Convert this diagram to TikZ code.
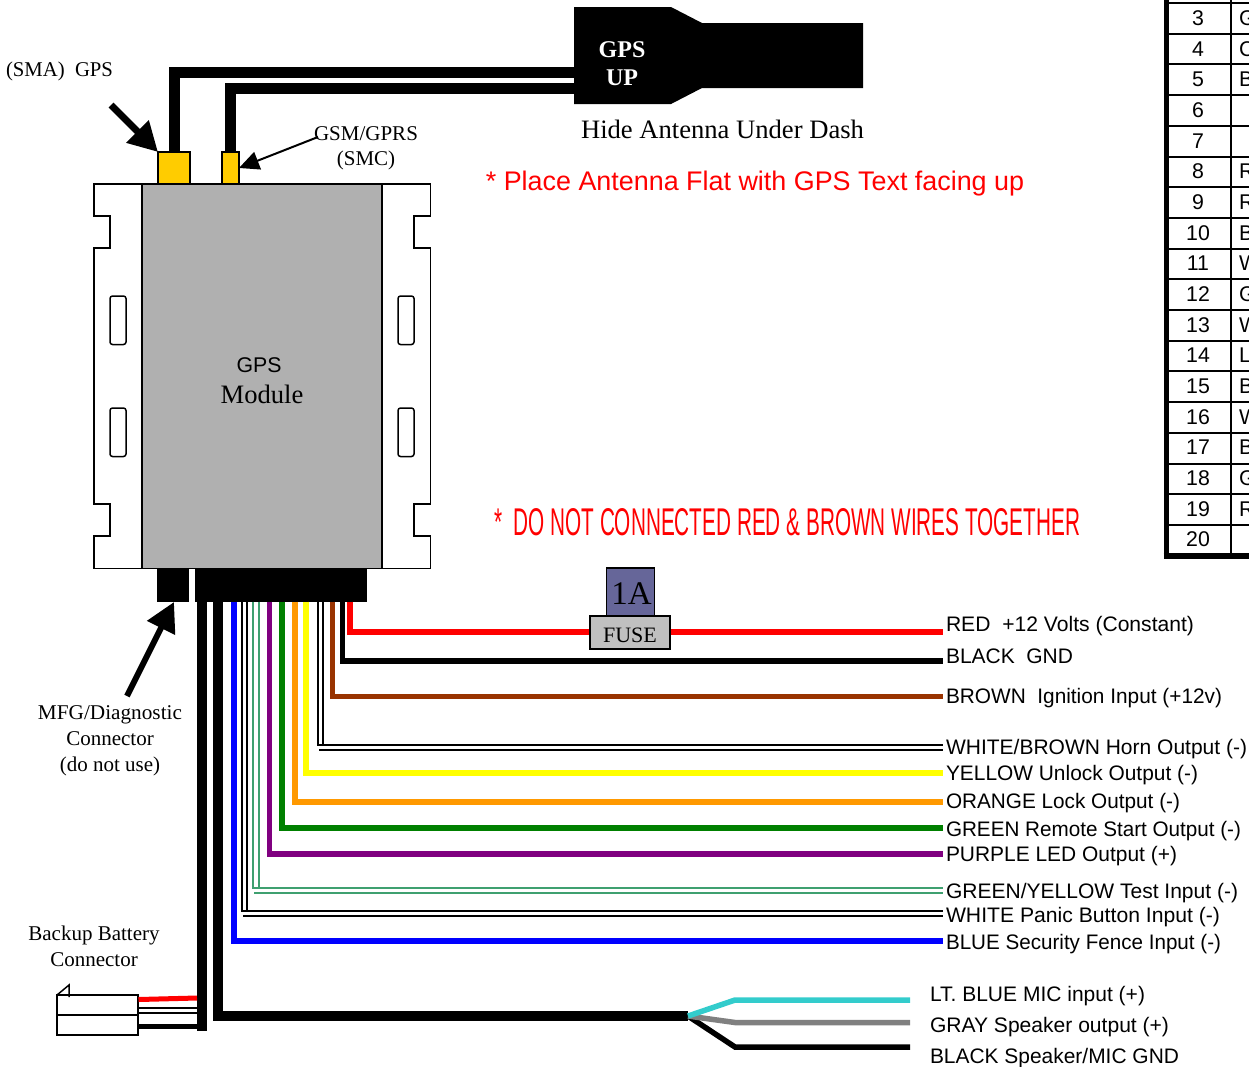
\documentclass[tikz,border=0pt]{standalone}
\usepackage{fontspec}
\usepackage{graphicx}
\setmainfont{Liberation Serif}
\newfontfamily\arialf{Liberation Sans}
\usetikzlibrary{arrows.meta,calc}
\definecolor{gold}{HTML}{FFCC00}
\definecolor{modgray}{HTML}{B0B0B0}
\definecolor{fuseblue}{HTML}{666699}
\definecolor{fusegray}{HTML}{C0C0C0}
\definecolor{wbrown}{HTML}{993300}
\definecolor{wpurple}{HTML}{800080}
\definecolor{wgreen}{HTML}{008000}
\definecolor{worange}{HTML}{FF9900}
\definecolor{wyellow}{HTML}{FFFF00}
\definecolor{wmint}{HTML}{3FA070}
\definecolor{wteal}{HTML}{33CCCC}
\definecolor{wgray}{HTML}{808080}
\newcommand{\fsz}[1]{\fontsize{#1}{#1}\selectfont}
\tikzset{
  every node/.style={outer sep=0pt},
  outline/.style={draw=black,line width=1.5pt},
  wirethick/.style={line width=10.5pt,line join=miter},
  wire/.style={line width=#1,line join=miter},
  rail/.style={line width=2pt,draw=#1},
  serifl/.style={inner sep=0pt,font=\fsz{21}},
  sansl/.style={inner sep=0pt,anchor=base west,font=\arialf\fsz{21}},
  cell/.style={inner sep=0pt,font=\arialf\fsz{21.3}},
  tabline/.style={line width=2pt},
  antwire/.style={line width=11pt,line join=miter},
  port/.style={draw=black,line width=1.5pt,fill=gold,inner sep=0pt},
}
\begin{document}
\begin{tikzpicture}[x=1pt,y=-1pt]
\useasboundingbox (0,0) rectangle (1249,1066);

% ---- table
\begin{scope}
\clip (0,0) rectangle (1249,1066);
\draw[line width=5.5pt] (1166.5,0) -- (1166.5,559);
\draw[tabline] (1231,0) -- (1231,554);
\foreach \yy in {3,33.7,64.4,95.1,125.8,156.5,187.2,217.9,248.6,279.3,310,340.7,371.4,402.1,432.8,463.5,494.2,524.9}
  \draw[tabline] (1166,\yy) -- (1249,\yy);
\draw[line width=5.5pt] (1163.7,556) -- (1249,556);
\foreach \n/\yy in {3/18,4/49,5/79,6/110,7/141,8/171,9/202,10/233,11/263,12/294,13/325,14/355,15/386,16/417,17/447,18/478,19/509,20/539}
  \node[cell] (row\n) at (1198,\yy) {\n};
\foreach \t/\yy in {G/18,C/49,B/79,R/171,R/202,B/233,W/263,G/294,W/325,L/355,B/386,W/417,B/447,G/478,R/509}
  \node[cell,anchor=west] at (1239,\yy) {\t};
\end{scope}

% ---- module
\draw[outline,fill=white] (94,184) -- (94,216) -- (110,216) -- (110,248) -- (94,248) -- (94,504) -- (110,504) -- (110,536) -- (94,536) -- (94,568.5) -- (142,568.5) -- (142,184) -- cycle;
\draw[outline,fill=white] (430.5,184) -- (430.5,216) -- (414,216) -- (414,248) -- (430.5,248) -- (430.5,504) -- (414,504) -- (414,536) -- (430.5,536) -- (430.5,568.5) -- (382,568.5) -- (382,184) -- cycle;
\foreach \xx in {110,398} \foreach \yy in {296,408}
  \draw[outline,rounded corners=2.5pt] (\xx,\yy) rectangle +(16,48.5);
\node[outline,fill=modgray,inner sep=0pt,minimum width=240pt,minimum height=384.5pt,anchor=north west] (module) at (142,184) {};
\node[inner sep=0pt,font=\arialf\fsz{21.3}] (modA) at (259,365) {GPS};
\node[inner sep=0pt,font=\fsz{26.6}] (modB) at (262,394) {Module};

% ---- antenna
\node[port,minimum width=32pt,minimum height=32pt,anchor=north west] (sma) at (158,152) {};
\node[port,minimum width=17pt,minimum height=32pt,anchor=north west] (smc) at (222,152) {};
\coordinate (antA) at (575,72);
\coordinate (antB) at (575,88.5);
\draw[antwire] (174,152) |- (antA);
\draw[antwire] (230,152) |- (antB);
\fill (574,7) -- (671,7) -- (702,23) -- (863,23) -- (863,88) -- (702,88) -- (671,104) -- (574,104) -- cycle;
\node[inner sep=0pt,text=white,font=\bfseries\fsz{24}] (gpsa) at (622,50) {GPS};
\node[inner sep=0pt,text=white,font=\bfseries\fsz{24}] (gpsb) at (622,78) {UP};
\node[inner sep=0pt,font=\fsz{26.6}] (hide) at (722.5,129.5) {Hide Antenna Under Dash};
\node[inner sep=0pt,text=red,font=\arialf\fsz{26.9}] (place) at (755,184) {* Place Antenna Flat with GPS Text facing up};

% ---- arrows at ports
\node[serifl,anchor=west] (smal) at (6,71) {\resizebox{107pt}{\height}{(SMA)\ \ GPS}};
\coordinate (smatail) at (111,105);
\draw[line width=7pt,-{Triangle[length=29pt,width=30pt]}] (smatail) -- (sma.north west);
\node[serifl] (gsml) at (366,134) {GSM/GPRS};
\node[serifl] (smcl) at (366,160) {(SMC)};
\coordinate (smctail) at (318,137);
\coordinate (smctip) at (239,168);
\draw[line width=2pt,-{Triangle[length=20pt,width=18.5pt]}] (smctail) -- (smctip);

% ---- connectors under module
\node[fill=black,inner sep=0pt,minimum width=32pt,minimum height=33pt,anchor=north west] (diag) at (157,568.5) {};
\node[fill=black,inner sep=0pt,minimum width=172pt,minimum height=33pt,anchor=north west] (harness) at (195,568.5) {};
\coordinate (diagtail) at (127,696);
\draw[line width=6pt,-{Triangle[length=29pt,width=30pt]}] (diagtail) -- (174,602);
\node[serifl] (mfga) at (110,715) {\resizebox{144pt}{\height}{MFG/Diagnostic}};
\node[serifl] (mfgb) at (110,739) {Connector};
\node[serifl] (mfgc) at (110,766) {(do not use)};

% ---- wires
\foreach \n/\xx/\yy/\cc/\ww in {
  red/350/632/red/6, blk/342.5/661/black/5.5, brn/332.5/696.5/wbrown/5.5,
  yel/306/773/wyellow/6, org/295/802/worange/6, grn/282/828/wgreen/6,
  pur/269.5/854/wpurple/5.5, blu/233.5/941/blue/6}
{
  \coordinate (end\n) at (943,\yy);
  \draw[wire=\ww pt,draw=\cc] (\xx,0 |- harness.south) |- (end\n);
}
% double rails
\foreach \n/\xa/\xb/\ya/\yb/\cc in {wb/318/323/744.5/749.5/black, gy/253/258.5/888/893/wmint, wh/242/247/911/916/black}
{
  \coordinate (end\n a) at (943,\ya);
  \coordinate (end\n b) at (943,\yb);
  \draw[rail=\cc] (\xa,0 |- harness.south) |- (end\n a);
  \draw[rail=\cc] (\xb,0 |- harness.south) -- (\xb,\ya);
  \draw[rail=\cc] (\xa+1,\yb) -- (end\n b);
}
% thick black
\coordinate (busend) at (202,1031);
\draw[wirethick] (202,0 |- harness.south) -- (busend);
\coordinate (split) at (688,1016);
\draw[wirethick] (218,0 |- harness.south) |- (split);

% ---- split tail
\coordinate (endteal) at (910,1000);
\coordinate (endgray) at (910,1022.5);
\coordinate (endblk) at (910,1047);
\draw[line width=5.5pt] (split) -- (735,1047) -- (endblk);
\draw[line width=5.5pt,wgray] (split) -- (735,1022.5) -- (endgray);
\draw[line width=5.5pt,wteal] (split) -- (735,1000) -- (endteal);

% ---- fuse
\node[outline,fill=fuseblue,inner sep=0pt,minimum width=48pt,minimum height=48pt,anchor=north west] (amp) at (606.5,568) {};
\node[inner sep=0pt,font=\fsz{33}] at (631.5,594) {1A};
\node[outline,fill=fusegray,inner sep=0pt,minimum width=80pt,minimum height=33pt,anchor=north west] (fuse) at (590,616) {};
\node[inner sep=0pt,font=\fsz{22}] at (630,635) {FUSE};

% ---- backup battery
\node[outline,fill=white,inner sep=0pt,minimum width=81pt,minimum height=40pt,anchor=north west] (batt) at (57,995) {};
\draw[outline] (batt.west) -- (batt.east);
\coordinate (tria) at (69,985);
\coordinate (trib) at (69,997);
\draw[outline] (batt.north west) -- (tria) -- (trib);
\coordinate (bA) at (197,998);
\coordinate (bB) at (197,1008);
\coordinate (bC) at (197,1013);
\coordinate (bD) at (197,1026);
\draw[line width=5pt,red] (138.5,999.5) -- (bA);
\draw[line width=2pt] (138.5,1008) -- (bB);
\draw[line width=2pt] (138.5,1013) -- (bC);
\draw[line width=5pt] (138.5,1026) -- (bD);
\node[serifl] (bata) at (94,935) {Backup Battery};
\node[serifl] (batb) at (94,960) {Connector};

% ---- warning
\node[inner sep=0pt,text=red,anchor=west] (warn) at (494,522.5) {\resizebox{586pt}{27pt}{\arialf *\ \ DO NOT CONNECTED RED \& BROWN WIRES TOGETHER}};

% ---- wire labels
\foreach \n/\yy/\w/\t in {
  a/631.5/248/{RED\ \ +12 Volts (Constant)},
  b/663.5/127/{BLACK\ \ GND},
  c/703.5/276/{BROWN\ \ Ignition Input (+12v)},
  d/754.5/301/{WHITE/BROWN Horn Output (-)},
  e/780.5/252/{YELLOW Unlock Output (-)},
  f/808.5/234/{ORANGE Lock Output (-)},
  g/836.5/295/{GREEN Remote Start Output (-)},
  h/861.5/231/{PURPLE LED Output (+)},
  i/898.5/292/{GREEN/YELLOW Test Input (-)},
  j/922.5/274/{WHITE Panic Button Input (-)},
  k/949.5/275/{BLUE Security Fence Input (-)}}
  \node[sansl] (lab\n) at (946,\yy) {\resizebox{\w pt}{\height}{\t}};
\foreach \n/\yy/\w/\t in {
  l/1001.5/215/{LT. BLUE MIC input (+)},
  m/1032.5/239/{GRAY Speaker output (+)},
  n/1063.5/249/{BLACK Speaker/MIC GND}}
  \node[sansl] (lab\n) at (930,\yy) {\resizebox{\w pt}{\height}{\t}};
\end{tikzpicture}
\end{document}
